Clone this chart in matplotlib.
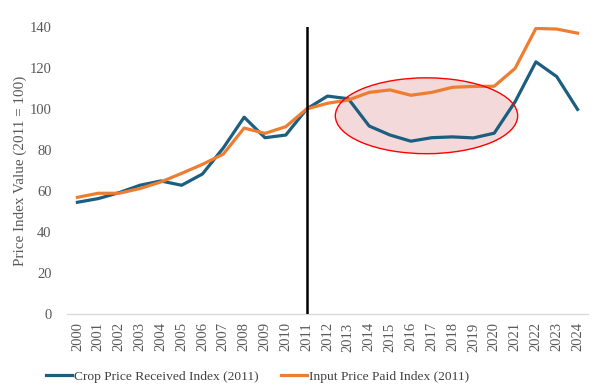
import numpy as np
from matplotlib import pyplot as plt
from matplotlib.patches import Ellipse

years = [str(y) for y in range(2000, 2025)]
crop_received = [54.5, 56.3, 59.2, 62.8, 64.9, 62.8, 68.3, 81.0, 96.0, 86.0, 87.3, 100.0,
                 106.3, 105.0, 91.7, 87.3, 84.3, 86.0, 86.4, 85.9, 88.2, 103.5, 123.0, 115.8, 99.8]
input_paid = [56.9, 58.9, 58.9, 61.2, 64.4, 68.6, 73.0, 78.0, 90.7, 88.1, 91.4, 100.0,
              102.8, 104.4, 108.1, 109.3, 106.7, 108.1, 110.6, 111.0, 111.1, 119.8, 139.3, 139.0, 137.0]

plt.rcParams['font.family'] = ['Liberation Serif', 'DejaVu Serif']

fig = plt.figure(figsize=(6.06, 3.87), dpi=100)
ax = fig.add_axes([67 / 606, 1 - 314 / 387, 521 / 606, 287 / 387])

x = np.arange(len(years))
ax.plot(x, crop_received, color='#1b5e80', lw=2.3, label='Crop Price Received Index (2011)', zorder=3)
ax.plot(x, input_paid, color='#ed7d31', lw=2.3, label='Input Price Paid Index (2011)', zorder=3)

# base year marker
ax.axvline(years.index('2011'), color='black', lw=1.8, zorder=4)

# highlight the 2013-2021 gap
ax.add_patch(Ellipse((16.75, 96.7), 8.75, 37, facecolor='#e8b4b4', alpha=0.5,
                     edgecolor='none', zorder=2))
ax.add_patch(Ellipse((16.75, 96.7), 8.75, 37, facecolor='none',
                     edgecolor='#ff0000', lw=1.0, zorder=5))

ax.set_xlim(-0.5, len(years) - 0.5)
ax.set_ylim(0, 140)
ax.set_yticks(range(0, 141, 20))
ax.set_xticks(x)
ax.set_xticklabels(years, rotation=90)
ax.tick_params(axis='both', length=0, colors='#595959', labelsize=10.5)
ax.tick_params(axis='y', pad=11)
ax.tick_params(axis='x', pad=6)

for s in ['top', 'right', 'left']:
    ax.spines[s].set_visible(False)
ax.spines['bottom'].set_color('#d9d9d9')
ax.spines['bottom'].set_linewidth(1.0)

ax.set_ylabel('Price Index Value (2011 = 100)', color='#595959', fontsize=10.9)
ax.yaxis.set_label_coords(-0.076, 0.5)

fig.legend(loc='lower center', bbox_to_anchor=(0.425, -0.02), ncol=2, frameon=False,
           fontsize=9.7, handlelength=1.9, columnspacing=1.7, handletextpad=0.15,
           labelcolor='#404040')

fig.savefig('out.png', dpi=100)
